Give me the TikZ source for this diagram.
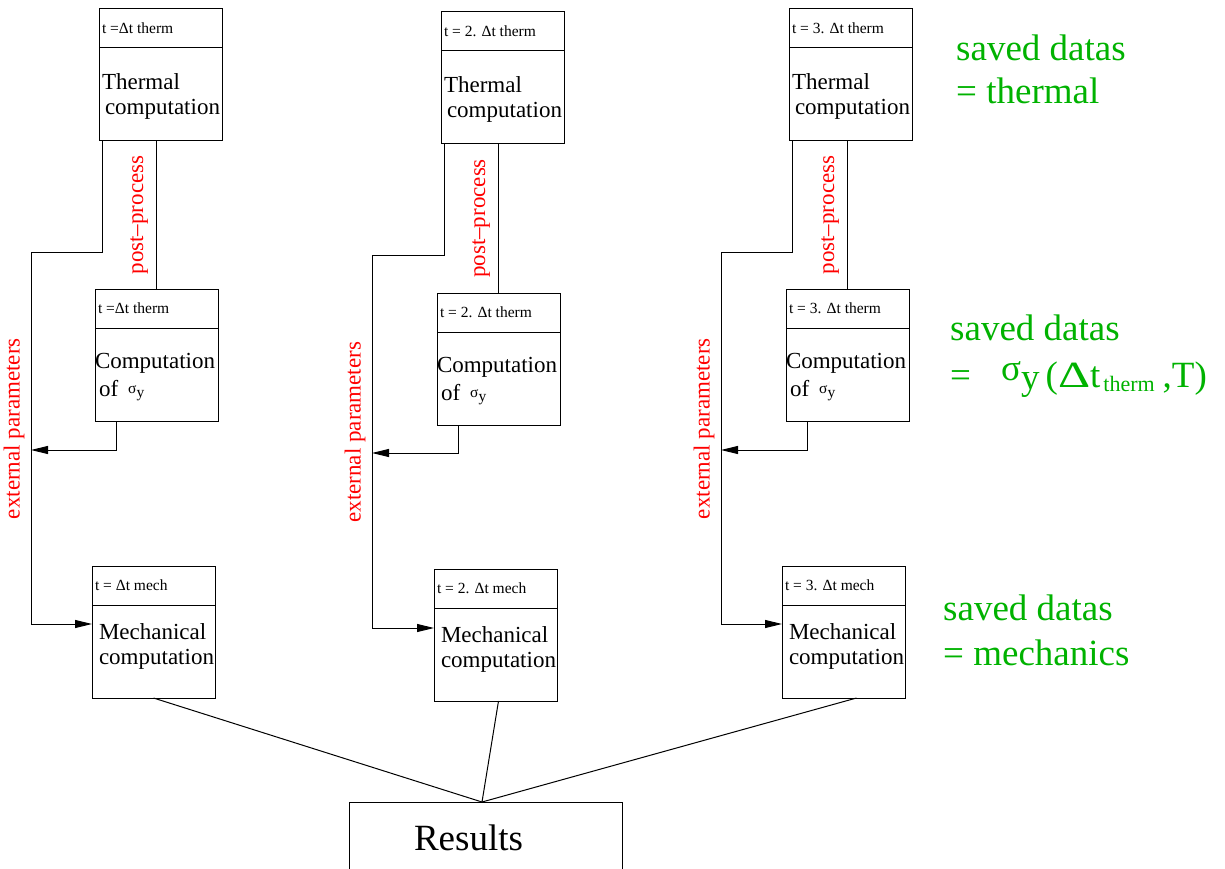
\documentclass[tikz,border=0pt]{standalone}
\usepackage{fontspec}
\usepackage{graphicx}
\usepackage{xcolor}
\setmainfont{Liberation Serif}
\usetikzlibrary{shapes.multipart,arrows.meta,calc}
\definecolor{savegreen}{RGB}{0,178,0}
\newcommand{\hdr}[1]{\parbox[c][38pt][c]{117pt}{\fontsize{15.5}{18}\selectfont #1}}
\newcommand{\bdy}[2]{\parbox[c][92pt][t]{117pt}{\fontsize{23}{25}\selectfont\raggedright
  \hyphenpenalty=10000 \exhyphenpenalty=10000 \hbadness=10000 \hfuzz=20pt \vspace*{#1}#2}}
\newcommand{\sigy}{{\fontsize{15.5}{18}\selectfont\raisebox{3pt}{σ}\raisebox{-1pt}{y}}}
\tikzset{
  stepbox/.style={rectangle split, rectangle split parts=2, draw, line width=1pt,
    inner xsep=3pt, inner ysep=0pt, outer sep=0pt, anchor=north west},
  link/.style={line width=1pt},
  flow/.style={line width=1pt, -{Triangle[length=17pt,width=8pt]}},
  redlabel/.style={red, font=\fontsize{23}{25}\selectfont, rotate=90, anchor=south},
  savedlabel/.style={savegreen, font=\fontsize{37}{43}\selectfont, align=left,
    anchor=north west, inner sep=0pt}
}
\begin{document}
\begin{tikzpicture}[x=1pt,y=-1pt]
\useasboundingbox (0,0) rectangle (1225,869);

\node[stepbox] (T1) at (99,9) {\hdr{t =Δt therm}\nodepart{two}\bdy{25pt}{Thermal\\\hspace*{3pt}computation}};
\node[stepbox] (C1) at (95,289) {\hdr{t =Δt therm}\nodepart{two}\bdy{25pt}{\hspace*{-3pt}Computation\\[3pt]\hspace*{1pt}of\hspace{10pt}\sigy}};
\node[stepbox] (M1) at (92,566) {\hdr{t = Δt mech}\nodepart{two}\bdy{18pt}{\hspace*{4pt}Mechanical\\\hspace*{4pt}computation}};

\node[stepbox] (T2) at (441,12) {\hdr{t = 2. Δt therm}\nodepart{two}\bdy{25pt}{Thermal\\\hspace*{3pt}computation}};
\node[stepbox] (C2) at (437,293) {\hdr{t = 2. Δt therm}\nodepart{two}\bdy{25pt}{\hspace*{-3pt}Computation\\[3pt]\hspace*{1pt}of\hspace{10pt}\sigy}};
\node[stepbox] (M2) at (434,569) {\hdr{t = 2. Δt mech}\nodepart{two}\bdy{18pt}{\hspace*{4pt}Mechanical\\\hspace*{4pt}computation}};

\node[stepbox] (T3) at (789,9) {\hdr{t = 3. Δt therm}\nodepart{two}\bdy{25pt}{Thermal\\\hspace*{3pt}computation}};
\node[stepbox] (C3) at (786,289) {\hdr{t = 3. Δt therm}\nodepart{two}\bdy{25pt}{\hspace*{-3pt}Computation\\[3pt]\hspace*{1pt}of\hspace{10pt}\sigy}};
\node[stepbox] (M3) at (782,566) {\hdr{t = 3. Δt mech}\nodepart{two}\bdy{18pt}{\hspace*{4pt}Mechanical\\\hspace*{4pt}computation}};

\node[draw, line width=1pt, outer sep=0pt, anchor=north west, minimum width=273pt, minimum height=72pt,
  inner xsep=65pt, text width=143pt, align=left, font=\fontsize{37}{43}\selectfont] (res) at (349,802) {Results};

\coordinate (e1) at (31,252);
\coordinate (e2) at (372,255);
\coordinate (e3) at (721,252);
\coordinate (m1in) at ($(M1.north west)+(0,58)$);
\coordinate (m2in) at ($(M2.north west)+(0,59)$);
\coordinate (m3in) at ($(M3.north west)+(0,58)$);
\coordinate (hub) at (482,802);

\draw[link] (C1.north) -- node[redlabel, midway, inner sep=8pt] {post–process} (C1.north |- T1.south);
\draw[link] (C2.north) -- node[redlabel, midway, inner sep=8pt] {post–process} (C2.north |- T2.south);
\draw[link] (C3.north) -- node[redlabel, midway, inner sep=8pt] {post–process} (C3.north |- T3.south);

\draw[flow] ($(T1.south west)+(3,0)$) |- (e1) -- node[redlabel, pos=0.475, inner sep=6pt] {external parameters} (e1 |- m1in) -- (m1in);
\draw[flow] ($(T2.south west)+(3,0)$) |- (e2) -- node[redlabel, pos=0.475, inner sep=6pt] {external parameters} (e2 |- m2in) -- (m2in);
\draw[flow] ($(T3.south west)+(3,0)$) |- (e3) -- node[redlabel, pos=0.475, inner sep=6pt] {external parameters} (e3 |- m3in) -- (m3in);

\draw[flow] ($(C1.south west)+(21,0)$) |- ($(e1)+(0,198)$);
\draw[flow] ($(C2.south west)+(21,0)$) |- ($(e2)+(0,198)$);
\draw[flow] ($(C3.south west)+(21,0)$) |- ($(e3)+(0,198)$);

\draw[link] (M1.south) -- (hub);
\draw[link] ($(M2.south)+(3,0)$) -- (hub);
\draw[link] ($(M3.south)+(13,0)$) -- (hub);

\node[savedlabel] (save1) at (956,35) {saved datas\\= thermal};
\node[savedlabel] (save2) at (950,315) {saved datas\\[4pt]=\hspace{30pt}\raisebox{7pt}{σ}\raisebox{-2pt}{y}\,(\scalebox{1.35}[1]{Δ}t\hspace{3pt}\raisebox{-4pt}{\fontsize{22}{22}\selectfont therm}\hspace{8pt},T)};
\node[savedlabel] (save3) at (943,595) {saved datas\\[2pt]= mechanics};
\end{tikzpicture}
\end{document}
